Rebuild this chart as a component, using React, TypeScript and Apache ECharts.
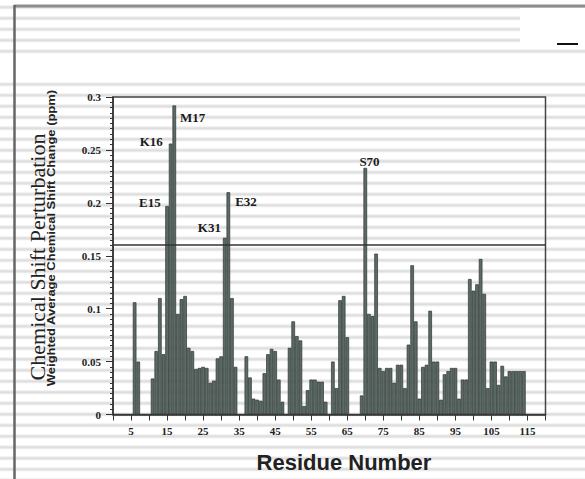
import React, { useEffect, useRef } from "react";
import * as echarts from "echarts";

const residues = [
  6, 7, 11, 12, 13, 14, 15, 16, 17, 18, 19, 20, 21, 22, 23, 24, 25, 26, 27, 28, 29, 30,
  31, 32, 33, 34, 37, 38, 39, 40, 41, 42, 43, 44, 45, 46, 47, 49, 50, 51, 52, 53, 54, 55,
  56, 57, 58, 59, 61, 62, 63, 64, 65, 69, 70, 71, 72, 73, 74, 75, 76, 77, 78, 79, 80, 81,
  82, 83, 84, 85, 86, 87, 88, 89, 90, 91, 92, 93, 94, 95, 96, 97, 98, 99, 100, 101, 102,
  103, 104, 105, 106, 107, 108, 109, 110, 111, 112, 113, 114,
];

const shifts = [
  0.106, 0.05, 0.034, 0.06, 0.11, 0.057, 0.197, 0.256, 0.292, 0.095, 0.109, 0.112, 0.063,
  0.06, 0.043, 0.044, 0.045, 0.044, 0.03, 0.032, 0.053, 0.055,
  0.167, 0.21, 0.11, 0.045, 0.055, 0.035, 0.015, 0.014, 0.013, 0.039, 0.057, 0.062, 0.06,
  0.033, 0.012, 0.063, 0.088, 0.074, 0.07, 0.008, 0.023, 0.033,
  0.033, 0.031, 0.031, 0.012, 0.05, 0.025, 0.108, 0.112, 0.073, 0.018, 0.233, 0.095, 0.093,
  0.152, 0.044, 0.041, 0.044, 0.044, 0.03, 0.047, 0.047, 0.025,
  0.066, 0.141, 0.088, 0.015, 0.045, 0.047, 0.098, 0.05, 0.05, 0.014, 0.038, 0.041, 0.044,
  0.044, 0.015, 0.033, 0.033, 0.128, 0.117, 0.123, 0.147,
  0.114, 0.025, 0.05, 0.05, 0.028, 0.046, 0.036, 0.041, 0.041, 0.041, 0.041, 0.041,
];

const annotatedResidues = [15, 16, 17, 31, 32, 70];
const annotationTexts = ["E15", "K16", "M17", "K31", "E32", "S70"];

const xTickLabels = [5, 15, 25, 35, 45, 55, 65, 75, 85, 95, 105, 115];
const threshold = 0.16;

const xAxisTitle = "Residue Number";
const yAxisTitle = "Chemical Shift Perturbation";
const yAxisSubtitle = "Weighted Average Chemical Shift Change (ppm)";

const BAR_W = 3.6;
const labelPlacement: Record<string, { position: number[]; align: string }> = {
  E15: { position: [-4.5, -4], align: "right" },
  K16: { position: [-6, -2], align: "right" },
  M17: { position: [BAR_W + 4, 12], align: "left" },
  K31: { position: [-2, -10], align: "right" },
  E32: { position: [BAR_W + 5, 9], align: "left" },
  S70: { position: [6, -6], align: "center" },
};

const serif = "'Liberation Serif', 'DejaVu Serif', serif";
const sans = "'Liberation Sans', Arial, sans-serif";

export default function App() {
  const ref = useRef<HTMLDivElement>(null);

  useEffect(() => {
    if (!ref.current) return;
    const chart = echarts.init(ref.current, undefined, { renderer: "svg" });

    const data = residues.map((r, i) => {
      const idx = annotatedResidues.indexOf(r);
      if (idx < 0) return [r, shifts[i]];
      const text = annotationTexts[idx];
      const p = labelPlacement[text];
      return {
        value: [r, shifts[i]],
        label: {
          show: true,
          formatter: text,
          position: p.position,
          align: p.align,
          verticalAlign: "middle",
          fontFamily: serif,
          fontWeight: "bold",
          fontSize: 13,
          color: "#1a1a1a",
        },
      };
    });

    chart.setOption({
      animation: false,
      backgroundColor: "transparent",
      grid: {
        left: 113,
        top: 97,
        right: 39.5,
        bottom: 64.5,
        show: true,
        borderColor: "#444",
        borderWidth: 1.5,
        backgroundColor: "transparent",
      },
      xAxis: {
        type: "value",
        min: 0,
        max: 120,
        interval: 5,
        splitLine: { show: false },
        axisLine: { show: true, lineStyle: { color: "#333", width: 1.5 } },
        axisTick: { show: true, length: 6, lineStyle: { color: "#333", width: 1 } },
        axisLabel: {
          margin: 11,
          fontFamily: serif,
          fontWeight: "bold",
          fontSize: 11,
          color: "#222",
          formatter: (v: number) => (xTickLabels.includes(v) ? String(v) : ""),
        },
      },
      yAxis: {
        type: "value",
        min: 0,
        max: 0.3,
        interval: 0.05,
        splitLine: { show: false },
        axisLine: { show: true, lineStyle: { color: "#333", width: 1.5 } },
        axisTick: { show: true, length: 7, lineStyle: { color: "#333", width: 1 } },
        minorTick: { show: true, splitNumber: 10, length: 3, lineStyle: { color: "#333", width: 1 } },
        axisLabel: {
          margin: 12,
          fontFamily: serif,
          fontWeight: "bold",
          fontSize: 11,
          color: "#222",
        },
      },
      series: [
        {
          type: "bar",
          data,
          barWidth: BAR_W,
          itemStyle: { color: "#5c6a65", borderColor: "#2d3532", borderWidth: 0.7 },
          markLine: {
            silent: true,
            symbol: "none",
            label: { show: false },
            lineStyle: { color: "#333", width: 1.5, type: "solid" },
            data: [{ yAxis: threshold }],
          },
        },
      ],
      graphic: [
        { type: "rect", z: 0, shape: { x: 0, y: 57, width: 585, height: 23 }, style: { fill: "#fff" } },
        { type: "rect", z: 1, shape: { x: 520, y: 8, width: 65, height: 37 }, style: { fill: "#fff" } },
        { type: "line", z: 2, shape: { x1: 14, y1: 6, x2: 585, y2: 6 }, style: { stroke: "#8c8c8c", lineWidth: 3 } },
        { type: "line", z: 2, shape: { x1: 14.5, y1: 5, x2: 14.5, y2: 479 }, style: { stroke: "#666", lineWidth: 2.5 } },
        { type: "line", z: 2, shape: { x1: 557, y1: 44, x2: 578, y2: 44 }, style: { stroke: "#111", lineWidth: 2 } },
        {
          type: "text",
          z: 5,
          x: 37,
          y: 257,
          rotation: Math.PI / 2,
          style: {
            text: yAxisTitle,
            font: `22px ${serif}`,
            fill: "#222",
            textAlign: "center",
            textVerticalAlign: "middle",
          },
        },
        {
          type: "text",
          z: 5,
          x: 51,
          y: 238,
          rotation: Math.PI / 2,
          scaleX: 1.18,
          style: {
            text: yAxisSubtitle,
            font: `bold 11px ${sans}`,
            fill: "#222",
            textAlign: "center",
            textVerticalAlign: "middle",
          },
        },
        {
          type: "text",
          z: 5,
          x: 344,
          y: 462,
          style: {
            text: xAxisTitle,
            font: `bold 22px ${sans}`,
            fill: "#222",
            textAlign: "center",
            textVerticalAlign: "middle",
          },
        },
      ],
    });

    return () => chart.dispose();
  }, []);

  return (
    <div
      ref={ref}
      style={{
        position: "absolute",
        left: 0,
        top: 0,
        width: 585,
        height: 479,
        background:
          "repeating-linear-gradient(180deg, #fff 0px, #fff 4.8px, #e6e6e6 6.3px, #dcdcdc 7.3px, #e6e6e6 8.3px, #fff 9.8px, #fff 11px)",
      }}
    />
  );
}
